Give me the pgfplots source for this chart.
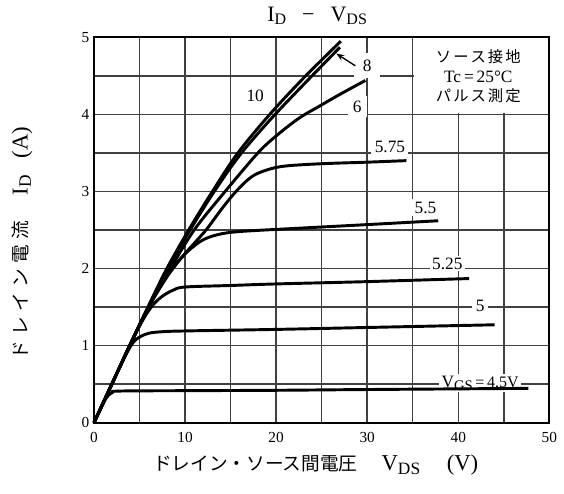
\documentclass[border=0pt]{standalone}
\usepackage{fontspec}
\setmainfont{Liberation Serif}
\newfontfamily\jp{Noto Sans CJK JP}
\usepackage{pgfplots}
\pgfplotsset{compat=1.18}
\usetikzlibrary{arrows.meta}

% lowered, smaller subscript in the text font
\newcommand\sub[2]{\raisebox{-2.5pt}{\fontsize{#1}{#1}\selectfont #2}}

\begin{document}
\begin{tikzpicture}
\begin{axis}[
    scale only axis,
    width=341.5pt, height=289pt,
    xmin=0, xmax=50, ymin=0, ymax=5,
    xtick={0,10,...,50}, ytick={0,1,...,5},
    major tick length=0pt, minor tick length=0pt,
    axis line style={line width=1.6pt},
    clip=false,
    /pgf/number format/assume math mode=true,
    ticklabel style={font=\fontsize{11.5}{12}\selectfont},
    xticklabel style={yshift=-3.5pt},
    xlabel={{\jp\fontsize{14}{14}\selectfont ドレイン・ソース間電圧}\hspace{18pt}V\sub{13}{DS}\hspace{20pt}(V)},
    xlabel style={at={(axis description cs:0.487,-0.125)}, anchor=base,
        font=\fontsize{17}{17}\selectfont},
    ylabel={{\jp\fontsize{14}{14}\selectfont ド\kern4pt レ\kern4pt イ\kern4pt ン\kern4pt 電\kern4pt 流}\hspace{19pt}I\sub{13}{D}\hspace{13pt}(A)},
    ylabel style={at={(axis description cs:-0.158,0.466)}, anchor=center,
        font=\fontsize{17}{17}\selectfont},
    curve/.style={black, line width=2.2pt, smooth, tension=0.55, no markers},
]
\coordinate (bbsw) at (rel axis cs:0,0);
\coordinate (bbne) at (rel axis cs:1,1);

% grid, drawn as thin filled strips
\pgfplotsinvokeforeach{5,10,15,20,25,30,35,40,45}{
  \fill[black!75] ([xshift=-0.55pt]axis cs:#1,0) rectangle ([xshift=0.55pt]axis cs:#1,5);
}
\pgfplotsinvokeforeach{0.5,1,1.5,2,2.5,3,3.5,4,4.5}{
  \fill[black!75] ([yshift=-0.55pt]axis cs:0,#1) rectangle ([yshift=0.55pt]axis cs:50,#1);
}

% title
\node[anchor=base, font=\fontsize{16.5}{16.5}\selectfont] at (axis description cs:0.49,1.042)
    {I\sub{12}{D}\hspace{12pt}−\hspace{12pt}V\sub{12}{DS}};

% white panel for the conditions and label backgrounds
\fill[white] (35.1,4.012) rectangle (50,5);
\node[align=center, font=\fontsize{11.5}{14.6}\selectfont] at (42.2,4.49)
    {{\jp ソ\kern1.5pt ー\kern1.5pt ス\kern1.5pt 接\kern1.5pt 地}\\{\fontsize{13}{14.6}\selectfont Tc\,=\,25°C}\\{\jp パ\kern1.5pt ル\kern1.5pt ス\kern1.5pt 測\kern1.5pt 定}};

\begin{scope}[every node/.style={font=\fontsize{13}{13}\selectfont}]
\node at (17.7,4.24) {10};
\node[fill=white, inner xsep=6.5pt, inner ysep=5pt] at (30.0,4.63) {8};
\node[fill=white, inner xsep=3.8pt] at (28.9,4.10) {6};
\node[fill=white, inner xsep=2.5pt, inner ysep=2.5pt] at (32.5,3.58) {5.75};
\node[fill=white, inner sep=2pt] at (36.4,2.79) {5.5};
\node[fill=white, inner xsep=1.5pt, inner ysep=1.5pt] at (38.8,2.065) {5.25};
\node[fill=white, inner xsep=3pt, inner ysep=1.5pt] at (42.4,1.515) {5};
\node[fill=white, inner xsep=2pt, inner ysep=1.5pt] at (42.4,0.51)
    {V\raisebox{-2pt}{\fontsize{11}{11}\selectfont GS}{\fontsize{12}{12}\selectfont\,=\,4.5V}};
\end{scope}
\draw[-{Stealth[length=6pt,width=4.5pt]}, line width=1pt] (28.7,4.63) -- (26.6,4.79);

% VGS = 10 V
\addplot[curve] coordinates {(0,0) (2,0.51) (4,1.02) (6,1.52) (8,2.0) (10.4,2.5) (13,3.0)
    (15.8,3.5) (19.3,4.0) (23,4.47) (27.1,4.95)};
% 8 V
\addplot[curve] coordinates {(0,0) (2,0.51) (4,1.02) (6,1.51) (8.1,2.0) (10.5,2.49) (13.1,2.98)
    (16,3.47) (19.5,3.95) (23.2,4.41) (27.0,4.87)};
% 6 V
\addplot[curve] coordinates {(0,0) (2,0.51) (4,1.02) (6,1.5) (8.3,1.98) (11,2.5) (14.4,3.0)
    (18,3.5) (20,3.72) (22.5,3.95) (24.8,4.11) (27,4.26) (29.8,4.44)};
% 5.75 V
\addplot[curve] coordinates {(0,0) (2,0.51) (4,1.02) (6,1.5) (8.4,1.96) (10.2,2.22) (12.3,2.5)
    (14,2.77) (15.6,3.0) (17.3,3.19) (19,3.28) (21,3.33) (25,3.36) (30,3.38) (34.3,3.40)};
% 5.5 V
\addplot[curve] coordinates {(0,0) (2,0.51) (4,1.02) (6,1.5) (7.6,1.83) (8.6,1.99) (9.9,2.18)
    (11.8,2.36) (13.6,2.44) (16,2.48) (22,2.52) (30,2.57) (37.8,2.62)};
% 5.25 V
\addplot[curve] coordinates {(0,0) (2,0.51) (4,1.02) (5.5,1.36) (6.5,1.53) (7.5,1.64) (8.7,1.72)
    (10,1.76) (15,1.78) (20,1.80) (30,1.83) (41.2,1.87)};
% 5 V
\addplot[curve] coordinates {(0,0) (2,0.51) (3.5,0.88) (4.3,1.04) (5,1.11) (6,1.16) (7.5,1.18)
    (10,1.19) (20,1.21) (30,1.235) (44,1.27)};
% 4.5 V
\addplot[curve] coordinates {(0,0) (0.8,0.2) (1.4,0.33) (2,0.39) (2.8,0.41) (10,0.415) (20,0.42)
    (30,0.43) (47.7,0.445)};

\draw[line width=1.6pt] (rel axis cs:0,0) rectangle (rel axis cs:1,1);
\end{axis}
\pgfresetboundingbox
\path ([xshift=-70.5pt,yshift=-53.5pt]bbsw) rectangle ([xshift=11pt,yshift=28pt]bbne);
\end{tikzpicture}
\end{document}
